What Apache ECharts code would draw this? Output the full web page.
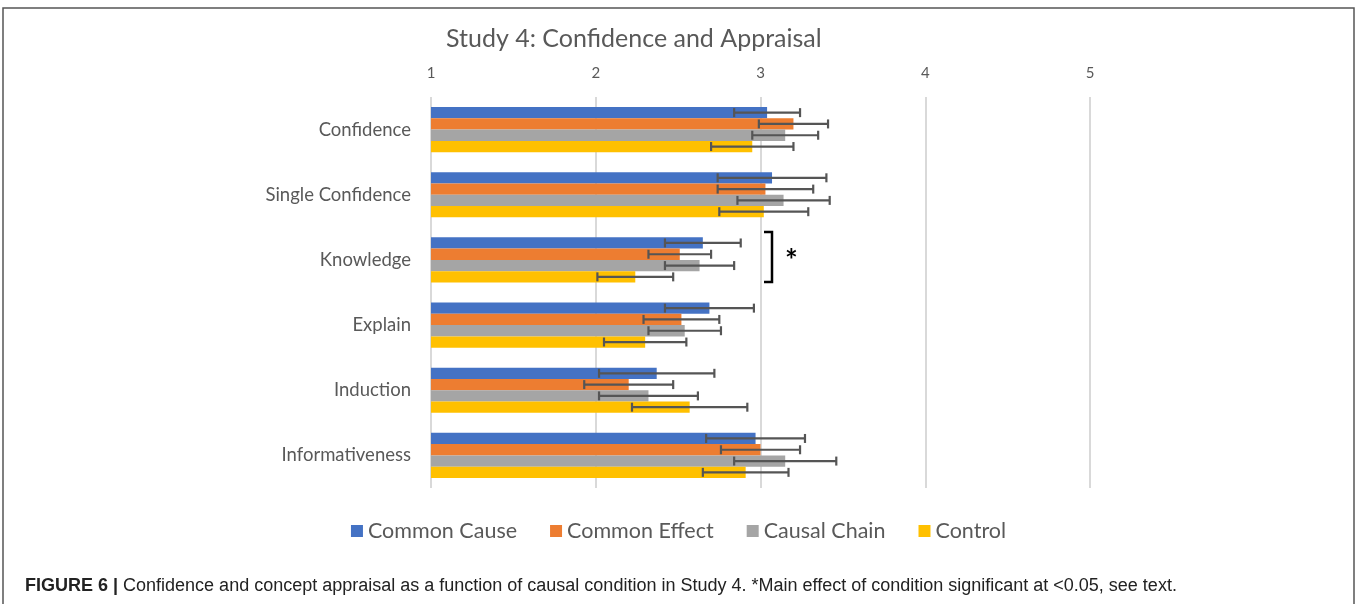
<!DOCTYPE html>
<html>
<head>
<meta charset="utf-8">
<script src="https://cdn.jsdelivr.net/npm/echarts@6/dist/echarts.min.js"></script>
<style>
  html, body { margin: 0; padding: 0; background: #fff; }
  #main { width: 1357px; height: 604px; }
</style>
</head>
<body>
<div id="main"></div>
<script>
// categories, top to bottom
var categories = ['Confidence', 'Single Confidence', 'Knowledge', 'Explain', 'Induction', 'Informativeness'];
var conditions = ['Common Cause', 'Common Effect', 'Causal Chain', 'Control'];
var xTicks = [1, 2, 3, 4, 5];

// means per condition (same order as categories)
var commonCause  = [3.04, 3.07, 2.65, 2.69, 2.37, 2.97];
var commonEffect = [3.20, 3.03, 2.51, 2.52, 2.20, 3.00];
var causalChain  = [3.15, 3.14, 2.63, 2.54, 2.32, 3.15];
var control      = [2.95, 3.02, 2.24, 2.30, 2.57, 2.91];

// error bar half widths
var errCommonCause  = [0.20, 0.33, 0.23, 0.27, 0.35, 0.30];
var errCommonEffect = [0.21, 0.29, 0.19, 0.23, 0.27, 0.24];
var errCausalChain  = [0.20, 0.28, 0.21, 0.22, 0.30, 0.31];
var errControl      = [0.25, 0.27, 0.23, 0.25, 0.35, 0.26];

var means = [commonCause, commonEffect, causalChain, control];
var errs = [errCommonCause, errCommonEffect, errCausalChain, errControl];
var colors = ['#4472C4', '#ED7D31', '#A5A5A5', '#FFC000'];

var BAR_H = 11.3;

var chart = echarts.init(document.getElementById('main'));

// error bar drawer for the k-th condition
function errRender(k) {
    return function (params, api) {
        var cat = api.value(0);
        var p0 = api.coord([api.value(1), cat]);
        var p1 = api.coord([api.value(2), cat]);
        var y = p0[1] + (k - 1.5) * BAR_H;
        var st = { stroke: '#555555', lineWidth: 2.2 };
        return {
            type: 'group',
            children: [
                { type: 'line', shape: { x1: p0[0], y1: y, x2: p1[0], y2: y }, style: st },
                { type: 'line', shape: { x1: p0[0], y1: y - 4.5, x2: p0[0], y2: y + 4.5 }, style: st },
                { type: 'line', shape: { x1: p1[0], y1: y - 4.5, x2: p1[0], y2: y + 4.5 }, style: st }
            ]
        };
    };
}

var series = [];
conditions.forEach(function (name, k) {
    series.push({
        name: name,
        type: 'bar',
        barWidth: BAR_H,
        barGap: '0%',
        itemStyle: { color: colors[k] },
        data: means[k]
    });
});
conditions.forEach(function (name, k) {
    series.push({
        type: 'custom',
        renderItem: errRender(k),
        encode: { x: [1, 2], y: 0 },
        z: 5,
        silent: true,
        data: categories.map(function (c, i) {
            return [i, means[k][i] - errs[k][i], means[k][i] + errs[k][i]];
        })
    });
});

var option = {
    animation: false,
    title: {
        text: 'Study 4: Confidence and Appraisal',
        left: 441,
        top: 21,
        textStyle: { fontFamily: 'Lato', fontSize: 25, fontWeight: 'normal', color: '#595959' }
    },
    legend: {
        data: conditions,
        top: 515,
        left: 'center',
        icon: 'rect',
        itemWidth: 12,
        itemHeight: 12,
        itemGap: 33,
        textStyle: { fontFamily: 'Lato', fontSize: 21.5, color: '#595959' }
    },
    grid: { left: 431, right: 267, top: 97, height: 391 },
    xAxis: {
        type: 'value',
        position: 'top',
        min: 1,
        max: 5,
        interval: 1,
        axisLine: { show: false },
        axisTick: { show: false },
        axisLabel: { fontFamily: 'Lato', fontSize: 15, color: '#595959', margin: 16 },
        splitLine: { lineStyle: { color: '#d9d9d9', width: 2 } }
    },
    yAxis: {
        type: 'category',
        data: categories,
        inverse: true,
        axisLine: { show: false },
        axisTick: { show: false },
        axisLabel: { fontFamily: 'Lato', fontSize: 18.5, color: '#595959', margin: 20 }
    },
    graphic: [
        { type: 'rect', shape: { x: 3, y: 8, width: 1351, height: 600 }, style: { fill: 'none', stroke: '#555', lineWidth: 1.5 } },
        { type: 'polyline', shape: { points: [[764, 232], [772, 232], [772, 282], [764, 282]] }, style: { fill: 'none', stroke: '#000', lineWidth: 2.5 } },
        { type: 'text', x: 785, y: 246, style: { text: '*', font: 'bold 30px Lato', fill: '#000' } },
        {
            type: 'text', x: 25, y: 577,
            style: {
                text: '{b|FIGURE 6 |} Confidence and concept appraisal as a function of causal condition in Study 4. *Main effect of condition significant at <0.05, see text.',
                font: '18px "Liberation Sans"',
                fill: '#222',
                rich: { b: { fontWeight: 'bold', fontSize: 18, fontFamily: 'Liberation Sans', fill: '#222' } }
            }
        }
    ],
    series: series
};

chart.setOption(option);
</script>
</body>
</html>
